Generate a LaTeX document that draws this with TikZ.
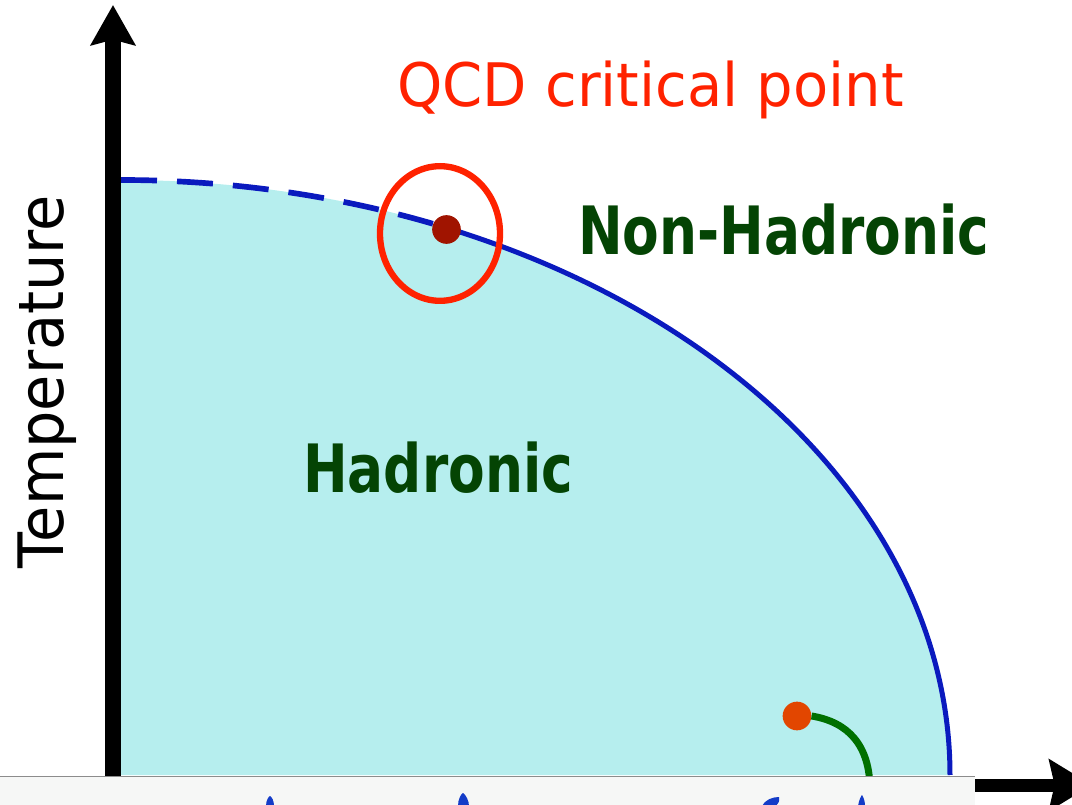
\documentclass[tikz,border=0pt]{standalone}
\usepackage{fontspec}
\setmainfont{DejaVu Sans}
\usetikzlibrary{arrows.meta,shapes.geometric}
\definecolor{phasefill}{RGB}{182,238,238}
\definecolor{lineblue}{RGB}{10,26,190}
\definecolor{critred}{RGB}{255,34,0}
\definecolor{dotred}{RGB}{160,20,0}
\definecolor{dotorange}{RGB}{226,70,0}
\definecolor{curvegreen}{RGB}{0,112,0}
\definecolor{labelgreen}{RGB}{4,68,4}
\definecolor{stripgray}{RGB}{246,247,246}
\definecolor{stripedge}{RGB}{140,140,140}
\definecolor{inkblue}{RGB}{20,60,200}
\begin{document}
\begin{tikzpicture}[x=0.75pt,y=-0.75pt,
  boundary/.style={draw=lineblue,line width=3.75pt},
  phaselabel/.style={text=labelgreen,inner sep=0pt,anchor=base west,font=\fontsize{50}{60}\selectfont\bfseries},
  marker/.style={circle,inner sep=0pt,minimum size=21.5pt},
  inkblob/.style={fill=inkblue}]
\useasboundingbox (0,0) rectangle (1072,805);
% phase region
\coordinate (origin) at (121,775);
\coordinate (ttop) at (121,180);
\fill[phasefill] (origin) -- (ttop) arc[start angle=-90,end angle=0,x radius=829,y radius=595] -- cycle;
% boundary: dashed crossover, solid first-order line
\draw[boundary,line width=4.25pt,dash pattern=on 27pt off 15pt] (ttop) arc[start angle=-90,end angle=-66.8,x radius=829,y radius=595] coordinate (cp);
\draw[boundary] (cp) arc[start angle=-66.8,end angle=0,x radius=829,y radius=595] coordinate (tend);
% axes
\coordinate (yfoot) at (113,790);
\coordinate (ytip) at (113,5);
\coordinate (xfoot) at (105,785);
\coordinate (xtip) at (1092,785);
\draw[line width=12pt,-{Stealth[length=30pt,width=33pt,inset=4pt]}] (yfoot) -- (ytip);
\draw[line width=9.75pt,-{Stealth[length=32pt,width=38pt,inset=4pt]}] (xfoot) -- (xtip);
% critical point
\node[marker,fill=dotred] (crit) at (446.5,229.5) {};
\node[draw=critred,line width=4.75pt,ellipse,minimum width=90pt,minimum height=101pt,inner sep=0pt] (ring) at (440,233.5) {};
% nuclear liquid-gas point
\node[marker,fill=dotorange] (ngp) at (797,716) {};
\coordinate (gend) at (870,790);
\draw[curvegreen,line width=5.25pt] (ngp.east) .. controls (848,722) and (870,745) .. (gend);
% bottom strip (cut-off image)
\fill[stripgray] (0,776) rectangle (975,806);
\draw[stripedge,line width=0.75pt] (0,776) -- (975,776);
\fill[inkblob] (266,806) .. controls (266,800) and (269,796) .. (270,796) .. controls (272,797) and (274,801) .. (274,806) -- cycle;
\fill[inkblob] (458,806) .. controls (458,799) and (461,794) .. (463,793) .. controls (466,795) and (469,801) .. (469,806) -- cycle;
\fill[inkblob] (762,806) .. controls (765,800) and (772,797) .. (779,797) .. controls (780,801) and (778,804) .. (776,806) -- cycle;
\fill[inkblob] (858,806) .. controls (859,800) and (861,796) .. (862,795) .. controls (864,798) and (865,802) .. (865,806) -- cycle;
% labels
\node[text=critred,inner sep=0pt,anchor=base west,font=\fontsize{45}{54}\selectfont] (qcd) at (397,107) {\scalebox{0.96}[1]{QCD critical point}};
\node[phaselabel] (nonhad) at (578,255) {\scalebox{0.8}[1]{Non-Hadronic}};
\node[phaselabel] (had) at (303,493) {\scalebox{0.8}[1]{Hadronic}};
\node[inner sep=0pt,anchor=base,rotate=90,font=\fontsize{47}{56}\selectfont] (temp) at (63,381.5) {\scalebox{0.94}[1]{Temperature}};
\end{tikzpicture}
\end{document}
